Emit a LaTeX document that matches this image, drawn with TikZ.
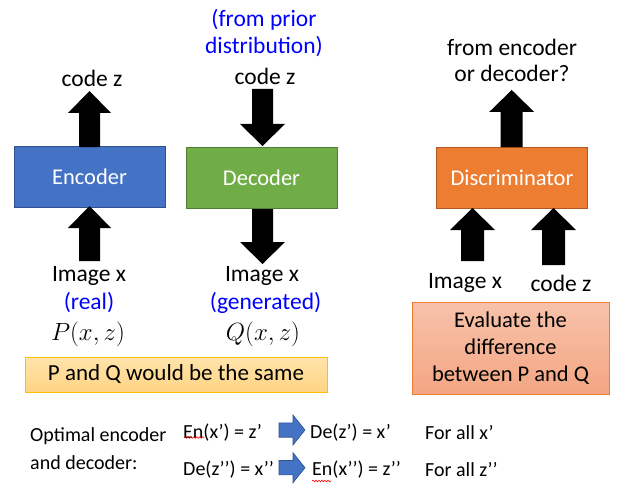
\documentclass[tikz,border=0pt]{standalone}
\usepackage{fontspec}
\setmainfont{Carlito}
\usetikzlibrary{decorations.pathmorphing}
\definecolor{encblue}{HTML}{4472C4}
\definecolor{encblueb}{HTML}{2F528F}
\definecolor{decgreen}{HTML}{70AD47}
\definecolor{decgreenb}{HTML}{507E32}
\definecolor{disorange}{HTML}{ED7D31}
\definecolor{disorangeb}{HTML}{AE5A21}
\definecolor{txtblue}{HTML}{0000FF}
\definecolor{pqtop}{HTML}{FFE4AC}
\definecolor{pqbot}{HTML}{FFD483}
\definecolor{pqline}{HTML}{FFC000}
\definecolor{evtop}{HTML}{F7C2AA}
\definecolor{evbot}{HTML}{F4A683}
\newcommand{\blkarrow}[6]{% x, tail, base, tip, shaft half, head half
  \fill (#1-#5,#2) -- (#1-#5,#3) -- (#1-#6,#3) -- (#1,#4) -- (#1+#6,#3) -- (#1+#5,#3) -- (#1+#5,#2) -- cycle;}
\newcommand{\bluearrow}[1]{% center y
  \draw[encblueb, fill=encblue, line width=0.6pt] (279,#1-7.2) -- (293,#1-7.2) -- (293,#1-15) -- (305,#1) -- (293,#1+15) -- (293,#1+7.2) -- (279,#1+7.2) -- cycle;}
\tikzset{
  blk/.style={minimum width=151, minimum height=61, inner sep=0pt, line width=0.8pt, text=white, font=\fontsize{22.5}{27}\selectfont},
  lbl/.style={inner sep=0pt, font=\fontsize{23.5}{28}\selectfont},
  blbl/.style={lbl, text=txtblue},
  mth/.style={inner sep=0pt, font=\fontsize{24}{28}\selectfont},
  bot/.style={inner sep=0pt, anchor=west, font=\fontsize{20}{24}\selectfont},
  squig/.style={red, line width=0.6pt, decorate, decoration={snake, amplitude=0.8pt, segment length=3pt}}
}
\begin{document}
\begin{tikzpicture}[x=1pt,y=-1pt]
\useasboundingbox (0,0) rectangle (617,489);
% boxes
\node[blk, draw=encblueb, fill=encblue] (enc) at (89.5,177) {Encoder};
\node[blk, draw=decgreenb, fill=decgreen] (dec) at (261.5,178) {Decoder};
\node[blk, draw=disorangeb, fill=disorange] (dis) at (512,178) {Discriminator};
% block arrows
\blkarrow{89.5}{147}{113}{91}{10.5}{21.5}
\blkarrow{89.5}{261}{228}{206}{10.5}{21.5}
\blkarrow{262.5}{89}{124}{146}{10.5}{22.5}
\blkarrow{262.5}{209}{242}{264}{10.5}{22.5}
\blkarrow{511.7}{147}{112}{90}{11}{22.5}
\blkarrow{472.5}{261}{230}{208}{11.5}{22.5}
\blkarrow{553.5}{265}{230}{208}{11.5}{22.5}
% top labels
\node[lbl] (cz1) at (92,78) {code z};
\node[blbl] (fp1) at (264,20) {(from prior};
\node[blbl] (fp2) at (264,47) {distribution)};
\node[lbl] (cz2) at (265,76) {code z};
\node[lbl] (fe1) at (512,47) {from encoder};
\node[lbl] (fe2) at (512,73) {or decoder?};
% lower labels
\node[lbl] (ix1) at (89,276) {Image x};
\node[blbl] (re) at (89,303) {(real)};
\node[mth] (pxz) at (88,334) {$P(x,z)$};
\node[lbl] (ix2) at (262,276) {Image x};
\node[blbl] (ge) at (265.5,303) {(generated)};
\node[mth] (qxz) at (263,334) {$Q(x,z)$};
\node[lbl] (ix3) at (465,283) {Image x};
\node[lbl] (cz3) at (561,283) {code z};
% result boxes
\node[draw=pqline, line width=0.8pt, top color=pqtop, bottom color=pqbot, minimum width=302, minimum height=35, inner sep=0pt, font=\fontsize{23}{27}\selectfont] (pq) at (176,374.5) {P and Q would be the same};
\node[draw=disorange, line width=0.8pt, top color=evtop, bottom color=evbot, minimum width=197, minimum height=92, inner sep=0pt, align=center, font=\fontsize{22.5}{27}\selectfont] (ev) at (510.5,348) {Evaluate the\\difference\\between P and Q};
% bottom section
\node[bot] (opt1) at (30,436) {Optimal encoder};
\node[bot] (opt2) at (30,463) {and decoder:};
\node[bot] (e1) at (183,433) {En(x’) = z’};
\node[bot] (d1) at (310,433) {De(z’) = x’};
\node[bot] (f1) at (425,433) {For all x’};
\node[bot] (d2) at (183,470) {De(z’{}’) = x’{}’};
\node[bot] (e2) at (312,470) {En(x’{}’) = z’{}’};
\node[bot] (f2) at (425,470) {For all z’{}’};
\bluearrow{430}
\bluearrow{467.7}
\draw[squig] (184,437.5) -- (204,437.5);
\draw[squig] (312,481) -- (331,481);
\end{tikzpicture}
\end{document}
